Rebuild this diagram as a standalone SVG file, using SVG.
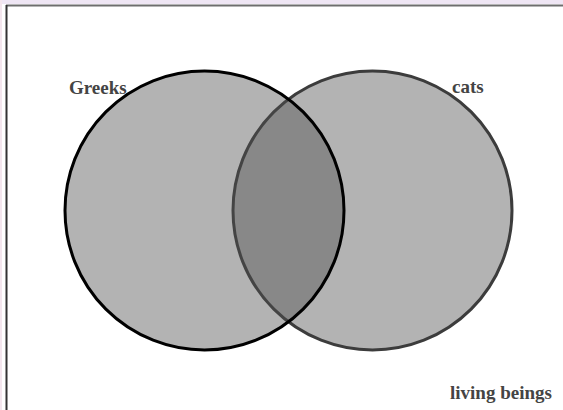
<svg xmlns="http://www.w3.org/2000/svg" width="563" height="410" viewBox="0 0 563 410">
<style>
.lbl{font-family:"Liberation Serif","Times New Roman",serif;font-weight:bold;font-size:19px;fill:#444}
.set{fill:#505050;fill-opacity:0.434;stroke-width:3}
</style>
<rect x="0" y="0" width="563" height="410" fill="#fff"/>
<rect x="0" y="0" width="563" height="4" fill="#efe6f4"/>
<rect x="0" y="0" width="2" height="410" fill="#f4e6ee"/>
<line x1="6" y1="5.5" x2="563" y2="5.5" stroke="#6e6e6e" stroke-width="2"/>
<line x1="6.5" y1="5" x2="6.5" y2="410" stroke="#333" stroke-width="2"/>
<g id="cats">
<circle class="set" cx="372.5" cy="210.5" r="139.5" stroke="#3c3c3c"/>
<text class="lbl" x="452" y="93">cats</text>
</g>
<g id="greeks">
<circle class="set" cx="204.5" cy="210.5" r="139.5" stroke="#000"/>
<text class="lbl" x="69" y="94">Greeks</text>
</g>
<g id="living-beings">
<text class="lbl" x="450" y="399">living beings</text>
</g>
<g id="connectors"></g>
</svg>
